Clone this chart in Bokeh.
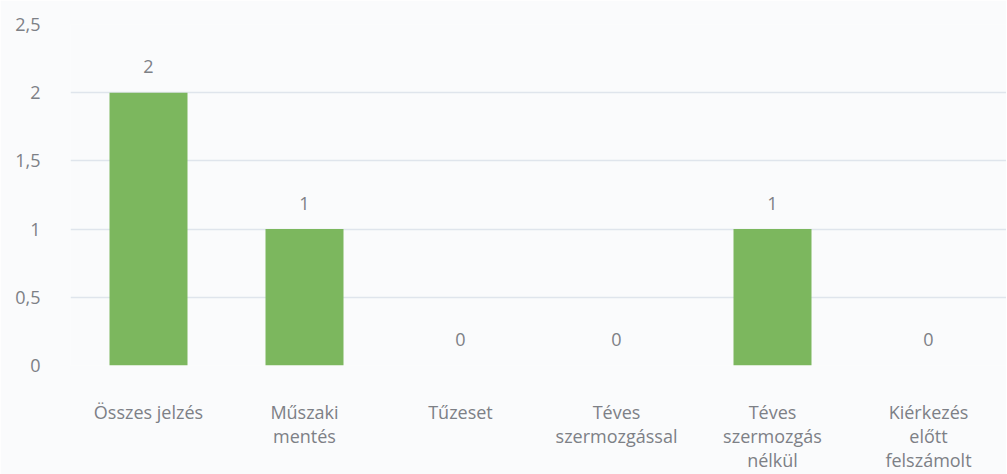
from bokeh.plotting import figure
from bokeh.models import ColumnDataSource, Range1d, FixedTicker, CustomJSTickFormatter
from bokeh.core.properties import value
from bokeh.embed import file_html
from bokeh.resources import INLINE

categories = ["Összes jelzés", "Műszaki\nmentés", "Tűzeset", "Téves\nszermozgással",
              "Téves\nszermozgás\nnélkül", "Kiérkezés\nelőtt\nfelszámolt"]
values = [2, 1, 0, 0, 1, 0]
y_ticks = [0, 0.5, 1, 1.5, 2, 2.5]

FONT = "Open Sans"
TXT = "#7d8086"

src = ColumnDataSource(dict(cat=categories, val=values, lab=[str(v) for v in values]))

p = figure(x_range=categories, y_range=Range1d(0, 2.5),
           frame_width=936, frame_height=341,
           min_border_left=70, min_border_right=0, min_border_top=24, min_border_bottom=108,
           output_backend="svg", toolbar_location=None)
p.background_fill_color = "#fafbfc"
p.border_fill_color = "#fafbfc"
p.outline_line_color = None

p.vbar(x="cat", top="val", width=0.5, source=src, fill_color="#7cb75e", line_color=None)
p.text(x="cat", y="val", text="lab", source=src, text_align="center", text_baseline="middle",
       y_offset=-26, text_font=value(FONT), text_font_size="18px", text_color=TXT)

p.xgrid.grid_line_color = None
p.ygrid.grid_line_color = "#dfe5ec"
p.ygrid.grid_line_width = 1.5
p.yaxis.ticker = FixedTicker(ticks=y_ticks)
p.yaxis.formatter = CustomJSTickFormatter(code="return tick.toString().replace('.', ',');")

for ax in (p.xaxis, p.yaxis):
    ax.axis_line_color = None
    ax.major_tick_line_color = None
    ax.minor_tick_line_color = None
    ax.major_label_text_font = FONT
    ax.major_label_text_font_size = "18px"
    ax.major_label_text_color = TXT

p.xaxis.major_label_text_line_height = 1.0
p.yaxis.major_label_standoff = 24
p.xaxis.major_label_standoff = 28

open("out.html", "w").write(file_html(p, INLINE))
